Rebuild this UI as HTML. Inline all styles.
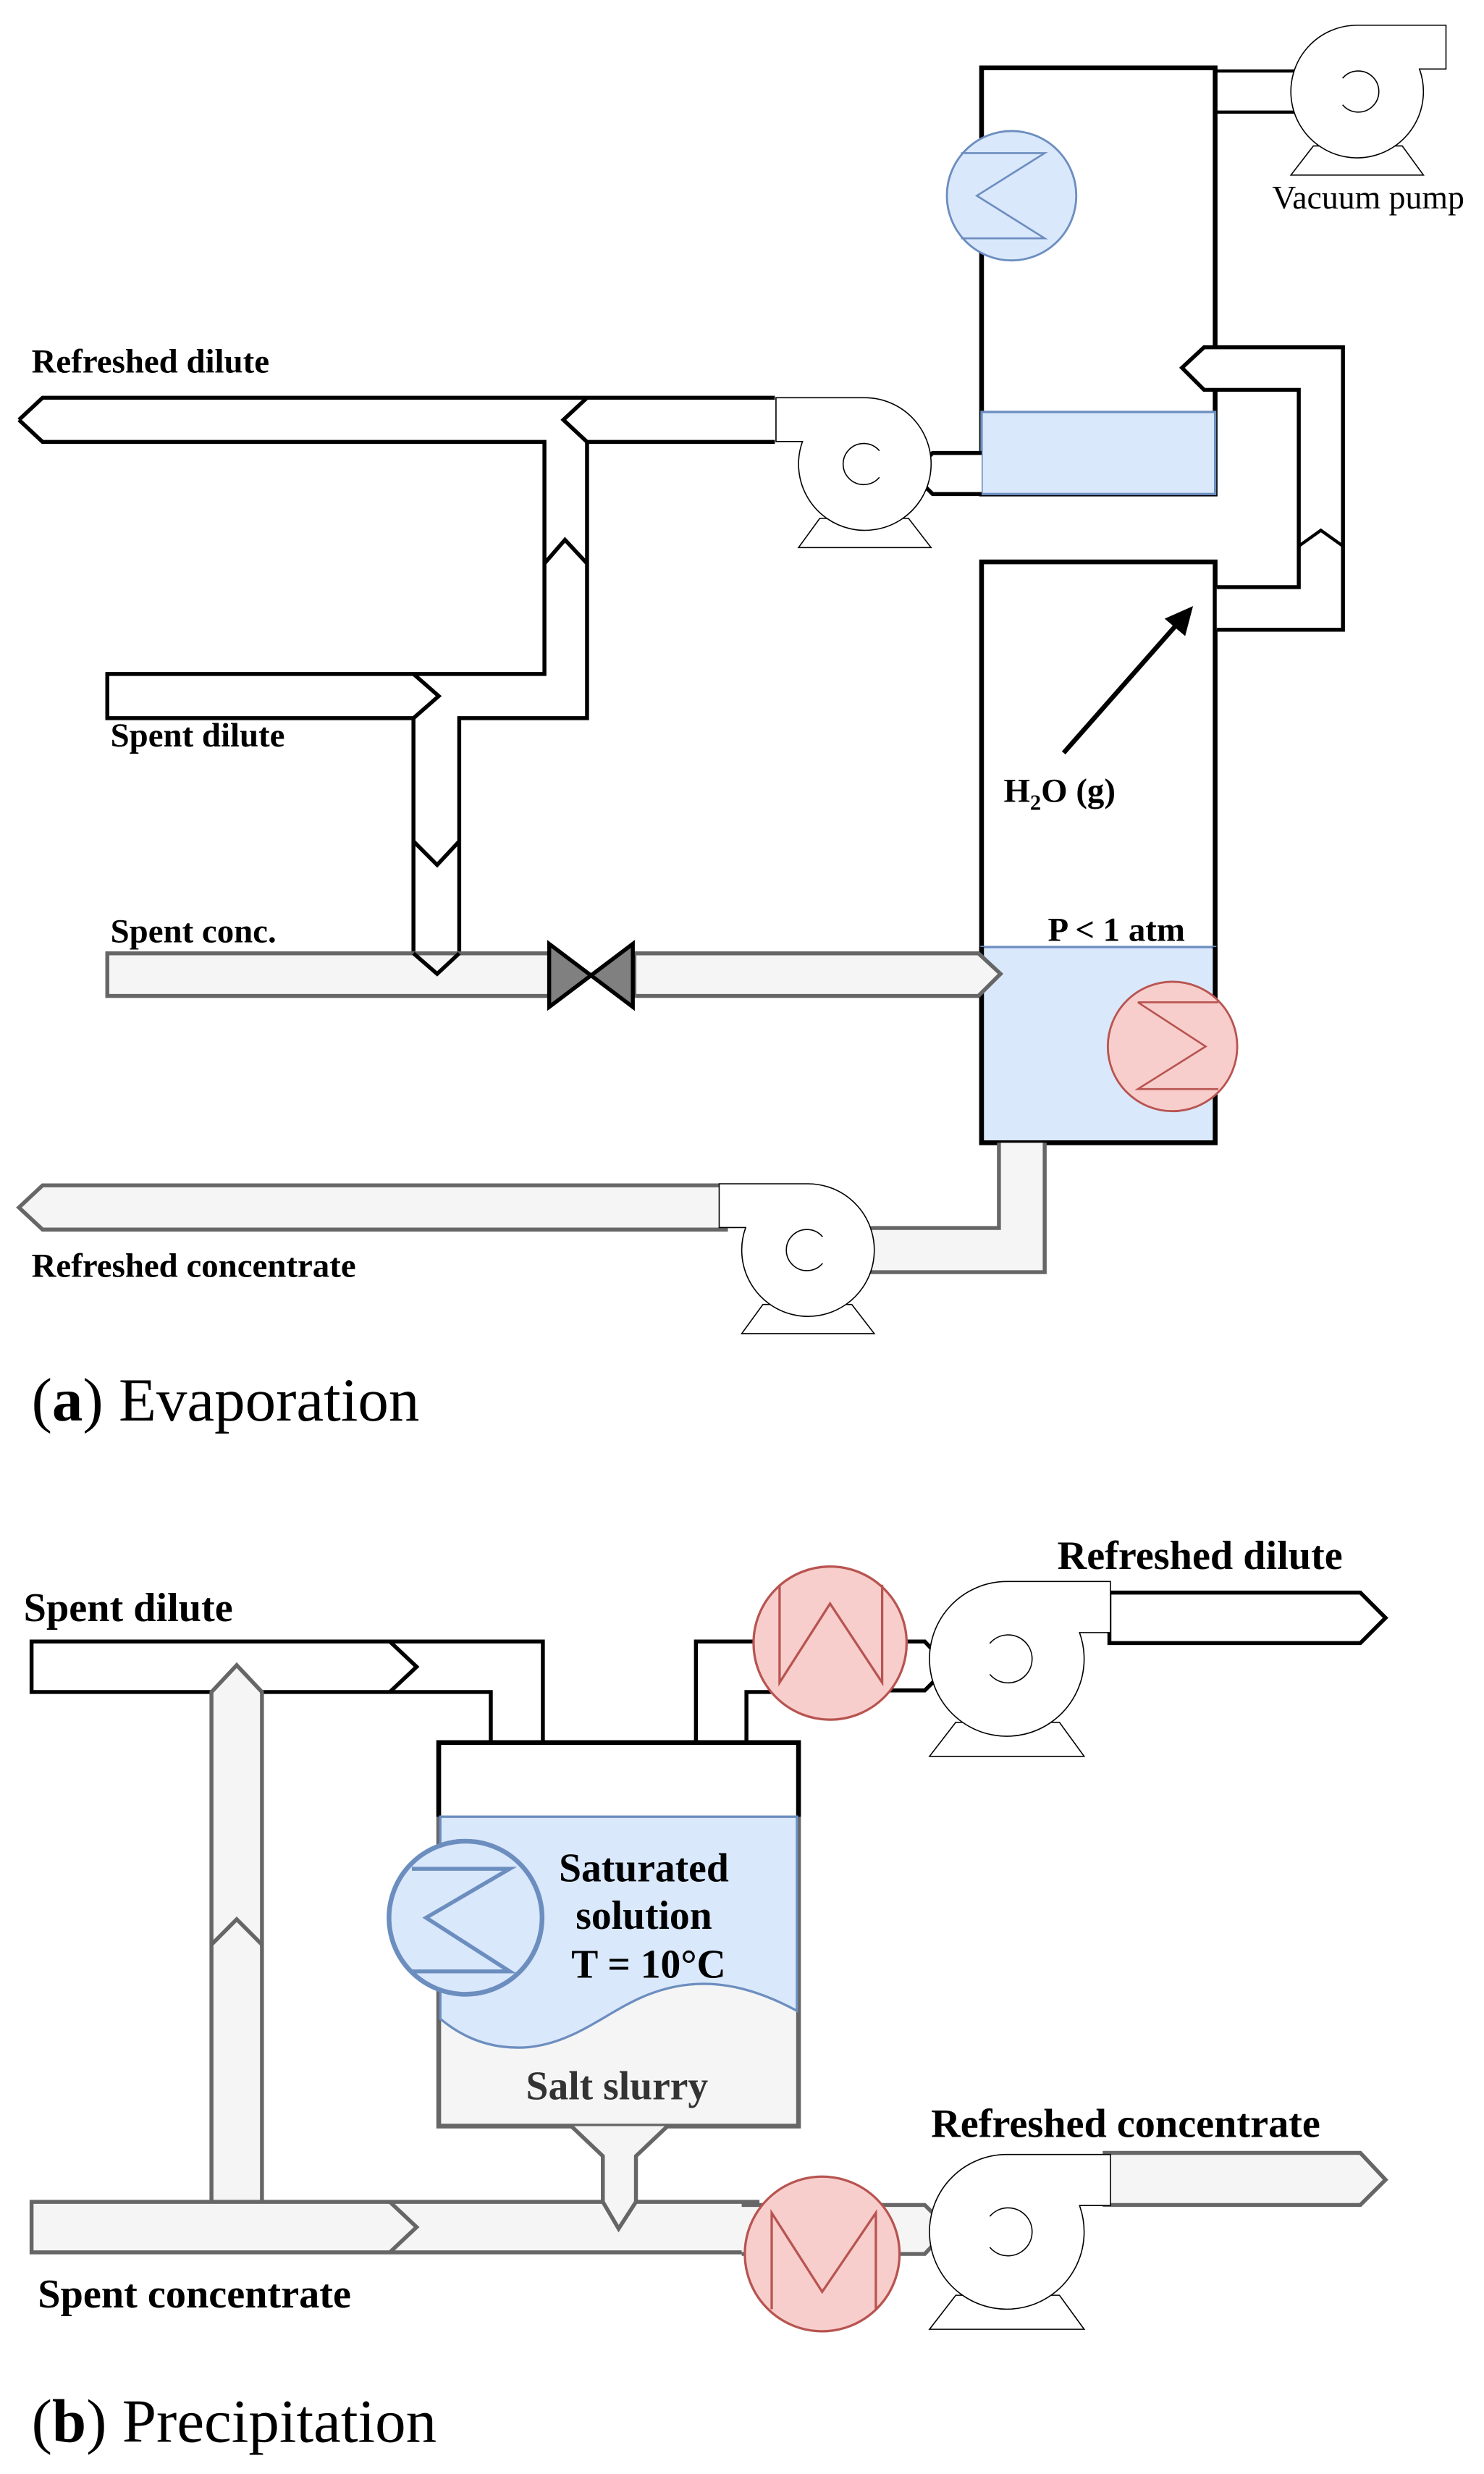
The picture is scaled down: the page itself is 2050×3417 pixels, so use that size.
<!DOCTYPE html>
<html><head><meta charset="utf-8"><style>
html,body{margin:0;padding:0;background:#fff;}
svg{display:block;}
text{font-family:"Liberation Serif",serif;}
.b{font-weight:bold;}
.ns{vector-effect:non-scaling-stroke;}
</style></head><body>
<svg width="2050" height="3417" viewBox="0 0 940.37 1567.43" preserveAspectRatio="none" xmlns="http://www.w3.org/2000/svg">
<defs>
<g id="pump">
<polygon class="ns" points="-0.66,0.82 -1.0,1.26 1.0,1.26 0.68,0.82" fill="#fff" stroke="#000" stroke-width="1.6"/>
<path class="ns" d="M0,-1 H1.34 V-0.34 H0.94 A1,1 0 1 1 0,-1 Z" fill="#fff" stroke="#000" stroke-width="1.6"/>
<path class="ns" d="M-0.22,-0.2 A0.31,0.31 0 1 1 -0.22,0.2" fill="none" stroke="#000" stroke-width="1.6"/>
</g>
</defs>

<!-- ================= (a) ================= -->
<rect x="622" y="43" width="148" height="270" fill="#fff" stroke="#000" stroke-width="3"/>
<rect x="622" y="261" width="148" height="52" fill="#dae8fc" stroke="#6c8ebf" stroke-width="1.5"/>
<circle cx="641" cy="124" r="41" fill="#dae8fc" stroke="#6c8ebf" stroke-width="1.3"/>
<path d="M609,97 H662 L619,124 L662,151 H609" fill="none" stroke="#6c8ebf" stroke-width="1.2"/>
<path d="M770,45 H822 M770,71 H822" stroke="#000" stroke-width="2" fill="none"/>
<use href="#pump" transform="translate(860,58) scale(42)"/>
<text x="867" y="132" font-size="21" text-anchor="middle">Vacuum pump</text>

<rect x="622" y="356" width="148" height="368" fill="#fff" stroke="#000" stroke-width="3"/>
<rect x="622" y="600" width="148" height="124" fill="#dae8fc" stroke="#6c8ebf" stroke-width="1.5"/>
<path d="M622,600 V724 H770 V600" fill="none" stroke="#000" stroke-width="3"/>
<circle cx="743" cy="663" r="41" fill="#f8cecc" stroke="#b85450" stroke-width="1.3"/>
<path d="M721,635 H772 M721,635 L764,663 L721,690 H772" fill="none" stroke="#b85450" stroke-width="1.2"/>

<path d="M771,372 H823 V247 H763 L749,233 L763,220 H851 V399 H771" fill="#fff" stroke="#000" stroke-width="2.5"/>
<path d="M823,346 L837,336 L851,346" fill="none" stroke="#000" stroke-width="2"/>
<line x1="674" y1="477" x2="748" y2="393" stroke="#000" stroke-width="3"/>
<polygon points="756,384 738,392 751,403" fill="#000"/>
<text x="636" y="508" font-size="21.5" class="b">H<tspan font-size="14" dy="5">2</tspan><tspan dy="-5">O (g)</tspan></text>
<text x="664" y="596" font-size="21.5" class="b">P &lt; 1 atm</text>

<path d="M12,266 L27,252 H491 V280 H372 V455 H291 V604 L277,617 L262,604 V455 H68 V427 H345 V280 H27 Z" fill="#fff" stroke="none"/>
<path d="M12,266 L27,252 H491 M12,266 L27,280 H345 V427 H68 V455 H262 V604 L277,617 L291,604 V455 H372 V280 H491" fill="none" stroke="#000" stroke-width="2.5"/>
<path d="M372,252 L357,266 L372,280" fill="none" stroke="#000" stroke-width="2.5"/>
<path d="M345,357 L358,342 L372,357" fill="none" stroke="#000" stroke-width="2.5"/>
<path d="M262,427 L278,441 L262,455" fill="none" stroke="#000" stroke-width="2.5"/>
<path d="M262,533 L277,548 L291,533" fill="none" stroke="#000" stroke-width="2.5"/>
<path d="M622,287 H591 L578,300 L591,313 H622" fill="#fff" stroke="#000" stroke-width="2.5"/>
<use href="#pump" transform="translate(548,294) scale(-42,42)"/>

<rect x="68" y="604" width="280" height="27" fill="#f5f5f5" stroke="#666" stroke-width="2.5"/>
<path d="M262,604 L277,617 L291,604" fill="none" stroke="#000" stroke-width="2.5"/>
<path d="M402,604 H620 L634,617 L620,631 H402 Z" fill="#f5f5f5" stroke="#666" stroke-width="2.5"/>
<polygon points="348,598 401,638 401,598 348,638" fill="#808080" stroke="#000" stroke-width="2.5"/>

<path d="M633,724 V778 H550 V806 H662 V724" fill="#f5f5f5" stroke="#666" stroke-width="2.5"/>
<path d="M460,751 H27 L12,765 L27,779 H460 Z" fill="#f5f5f5" stroke="#666" stroke-width="2.5"/>
<use href="#pump" transform="translate(512,792) scale(-42,42)"/>

<text x="20" y="236" font-size="21.5" class="b">Refreshed dilute</text>
<text x="70" y="473" font-size="21.5" class="b">Spent dilute</text>
<text x="70" y="597" font-size="21.5" class="b">Spent conc.</text>
<text x="20" y="809" font-size="21.5" class="b">Refreshed concentrate</text>
<text x="20" y="900" font-size="39">(<tspan class="b">a</tspan>) Evaporation</text>

<!-- ================= (b) ================= -->
<path d="M20,1040 H344 V1104 H311 V1072 H20 Z" fill="#fff" stroke="#000" stroke-width="2.5"/>
<path d="M247,1040 L264,1056 L247,1072" fill="none" stroke="#000" stroke-width="2.5"/>
<rect x="278" y="1104" width="228" height="243" fill="#f5f5f5" stroke="#666" stroke-width="3"/>
<rect x="279.5" y="1105.5" width="225" height="46" fill="#fff"/>
<path d="M278,1151 V1104 H506 V1151" fill="none" stroke="#000" stroke-width="3"/>
<path d="M279,1151 H505 V1274 C470,1255 440,1252 410,1264 C385,1274 365,1294 335,1297 C310,1299 292,1290 279,1279 Z" fill="#dae8fc" stroke="#6c8ebf" stroke-width="1.5"/>
<circle cx="295" cy="1215" r="48.5" fill="#dae8fc" stroke="#6c8ebf" stroke-width="3"/>
<path d="M261,1184 H323 L270,1215 L323,1249 H261" fill="none" stroke="#6c8ebf" stroke-width="2.5"/>
<text x="408" y="1192" font-size="25.5" class="b" text-anchor="middle">Saturated</text>
<text x="408" y="1222" font-size="25.5" class="b" text-anchor="middle">solution</text>
<text x="411" y="1253" font-size="25.5" class="b" text-anchor="middle">T = 10°C</text>
<text x="391" y="1330" font-size="25.5" class="b" fill="#333" text-anchor="middle">Salt slurry</text>

<path d="M134,1395 V1072 L150,1055 L166,1072 V1395" fill="#f5f5f5" stroke="#666" stroke-width="2.5"/>
<path d="M134,1232 L150,1216 L166,1232" fill="none" stroke="#666" stroke-width="2.5"/>

<path d="M20,1395 H480 V1427 H20 Z" fill="#f5f5f5" stroke="#666" stroke-width="2.5"/>
<path d="M247,1395 L264,1411 L247,1427" fill="none" stroke="#666" stroke-width="2.5"/>
<path d="M362,1347 L382,1366 V1395 L392,1412 L403,1395 V1366 L423,1347" fill="#f5f5f5" stroke="#666" stroke-width="2.5"/>
<path d="M470,1397 H586 L601,1412 L586,1428 H470" fill="#f5f5f5" stroke="#666" stroke-width="2.5"/>
<circle cx="521" cy="1428" r="49" fill="#f8cecc" stroke="#b85450" stroke-width="1.5"/>
<path d="M489,1463 V1402 L521,1452 L555,1402 V1463" fill="none" stroke="#b85450" stroke-width="1.5"/>
<path d="M700,1364 H862 L878,1381 L862,1397 H700 Z" fill="#f5f5f5" stroke="#666" stroke-width="2.5"/>
<use href="#pump" transform="translate(638,1414) scale(49)"/>

<path d="M441,1104 V1040 H490 M473,1104 V1072 H490" fill="none" stroke="#000" stroke-width="2.5"/>
<path d="M560,1040 H586 L601,1056 L586,1071 H560" fill="#fff" stroke="#000" stroke-width="2.5"/>
<circle cx="526" cy="1041" r="48.5" fill="#f8cecc" stroke="#b85450" stroke-width="1.5"/>
<path d="M494,1004 V1066 L526,1016 L559,1066 V1004" fill="none" stroke="#b85450" stroke-width="1.5"/>
<path d="M703,1009 H862 L878,1025 L862,1041 H703 Z" fill="#fff" stroke="#000" stroke-width="2.5"/>
<use href="#pump" transform="translate(638,1051) scale(49)"/>

<text x="670" y="994" font-size="25.8" class="b">Refreshed dilute</text>
<text x="590" y="1354" font-size="25.8" class="b">Refreshed concentrate</text>
<text x="15" y="1027" font-size="25.8" class="b">Spent dilute</text>
<text x="24" y="1462" font-size="25.8" class="b">Spent concentrate</text>
<text x="20" y="1547" font-size="39">(<tspan class="b">b</tspan>) Precipitation</text>
</svg>
</body></html>
